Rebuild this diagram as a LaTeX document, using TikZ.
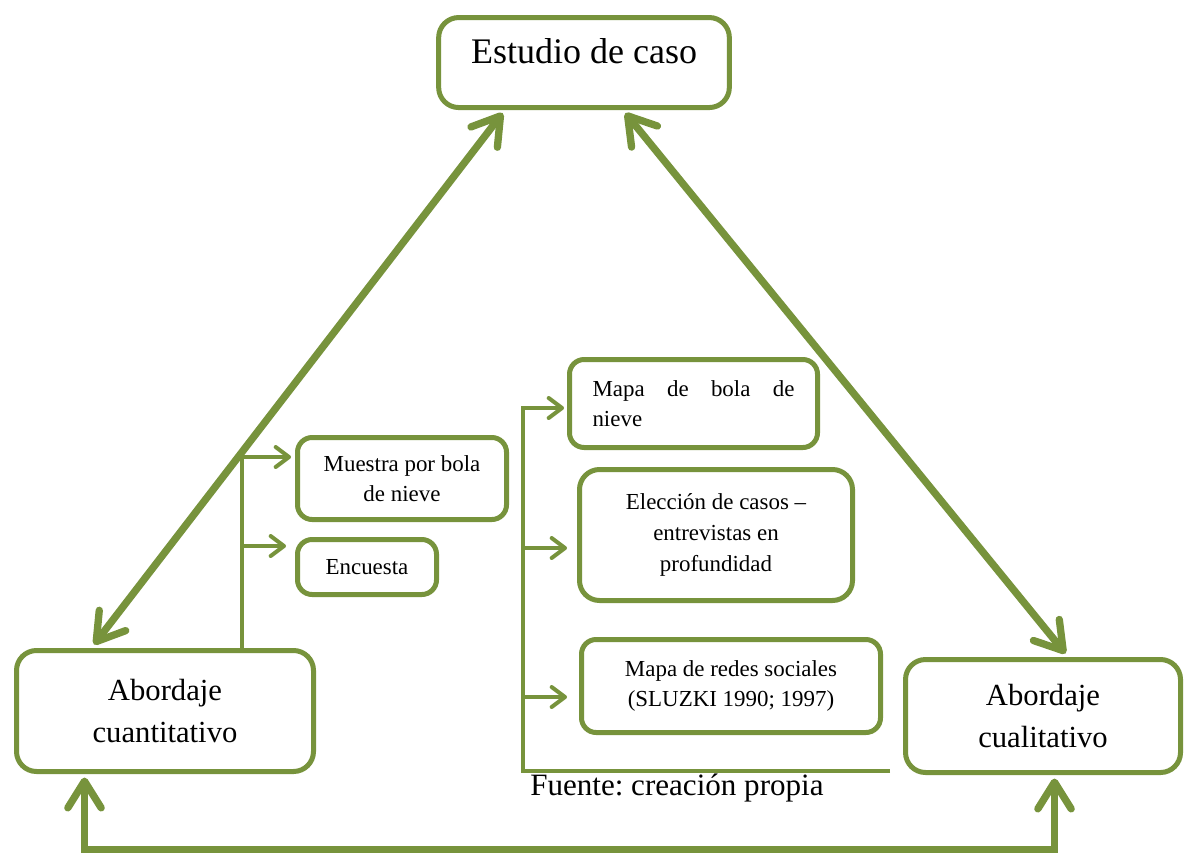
\documentclass[tikz,border=0pt]{standalone}
\usepackage{fontspec}
\setmainfont{Liberation Serif}
\usetikzlibrary{arrows.meta,calc}
\definecolor{olivegreen}{RGB}{119,147,60}
\frenchspacing
\begin{document}
\begin{tikzpicture}[x=0.75pt,y=-0.75pt,
  bigbox/.style={draw=olivegreen, line width=3.75pt, rounded corners=15pt, fill=white, align=center, inner sep=2pt},
  smallbox/.style={bigbox, rounded corners=11pt},
  bigfont/.style={font=\fontsize{23}{31.5}\selectfont},
  smallfont/.style={font=\fontsize{17.2}{23}\selectfont},
  mainlink/.style={draw=olivegreen, line width=5.5pt, {Straight Barb[length=20pt,width=25pt,round]}-{Straight Barb[length=20pt,width=25pt,round]}},
  branch/.style={draw=olivegreen, line width=3pt, -{Straight Barb[length=10pt,width=15pt,round]}},
  bracket/.style={draw=olivegreen, line width=3pt},
]
\useasboundingbox (0,0) rectangle (1184,853);

% boxes
\node[bigbox, font=\fontsize{27}{32}\selectfont, anchor=base, inner sep=0pt,
      minimum width=218pt, text height=34.1pt, text depth=33.4pt] (estudio) at (584,63) {Estudio de caso};
\node[bigbox, bigfont, minimum width=222.75pt, minimum height=90.75pt] (cuant) at (165,711) {Abordaje\\cuantitativo};
\node[bigbox, bigfont, minimum width=206.25pt, minimum height=84.75pt] (cual) at (1043,716) {Abordaje\\cualitativo};
\node[smallbox, smallfont, minimum width=156.75pt, minimum height=61.5pt] (muestra) at (402,478.5) {Muestra por bola\\de nieve};
\node[smallbox, smallfont, minimum width=104.25pt, minimum height=41.25pt] (encuesta) at (367,567) {Encuesta};
\node[smallbox, smallfont, minimum width=186pt, minimum height=66pt, text width=151.5pt, align=flush left] (mapabola) at (693.5,403.5) {Mapa\hfill de\hfill bola\hfill de\\nieve};
\node[bigbox, smallfont, minimum width=204.75pt, minimum height=98.25pt] (eleccion) at (716,535) {Elección de casos –\\entrevistas en\\profundidad};
\node[smallbox, smallfont, minimum width=224.25pt, minimum height=69.75pt] (redes) at (731,686) {Mapa de redes sociales\\(SLUZKI 1990; 1997)};

\node[anchor=base west, inner sep=0pt, font=\fontsize{23.3}{28}\selectfont] (fuente) at (530,795) {Fuente: creación propia};

% main double arrows
\draw[mainlink] ($(estudio.south west)+(66.5,3)$) -- ($(cuant.north west)+(80,-3.5)$);
\draw[mainlink] ($(estudio.south east)+(-106.5,3)$) -- ($(cual.north west)+(162.5,-3.5)$);

\coordinate (base) at (0,849.5);
\coordinate (q1) at ($(cuant.south west)+(70.5,3.5)$);
\coordinate (q2) at ($(cual.south west)+(151.5,3.5)$);
\draw[mainlink] (q1) -- (q1 |- base) -- (q2 |- base) -- (q2);

% left bracket
\coordinate (lb1) at (242,457);
\coordinate (lb2) at (242,546);
\draw[bracket] (lb1) -- (lb1 |- cuant.north);
\draw[branch] (lb1) -- ($(lb1 -| muestra.west)+(-4,0)$);
\draw[branch] (lb2) -- ($(lb2 -| encuesta.west)+(-9,0)$);

% right bracket
\coordinate (rb0) at (890,771);
\coordinate (rbc) at (523,771);
\coordinate (rb1) at (523,408);
\coordinate (rb2) at (523,548);
\coordinate (rb3) at (523,697);
\draw[branch] (rb0) -- (rbc) -- (rb1) -- ($(rb1 -| mapabola.west)+(-3,0)$);
\draw[branch] (rb2) -- ($(rb2 -| eleccion.west)+(-10,0)$);
\draw[branch] (rb3) -- ($(rb3 -| redes.west)+(-12,0)$);
\end{tikzpicture}
\end{document}
